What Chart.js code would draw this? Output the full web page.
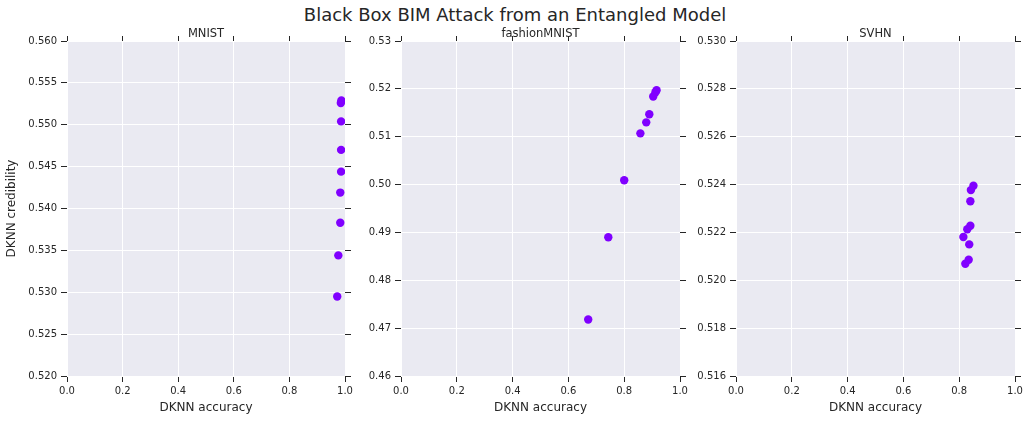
<!DOCTYPE html>
<html>
<head>
<meta charset="utf-8">
<script src="https://cdn.jsdelivr.net/npm/chart.js@4.4.1/dist/chart.umd.min.js"></script>
<style>
  html, body { margin: 0; padding: 0; background: #fff; }
  #fig { position: relative; width: 1030px; height: 421px; overflow: hidden; font-family: "DejaVu Sans", sans-serif; }
  #suptitle { position: absolute; left: 0; top: 4px; width: 1030px; text-align: center; font-size: 18px; line-height: 22px; color: #262626; }
  .panel { position: absolute; top: 0; height: 421px; }
</style>
</head>
<body>
<div id="fig"><div id="suptitle">Black Box BIM Attack from an Entangled Model</div></div>
<script>
// ---- Daten ----------------------------------------------------------------
const panelTitles = ['MNIST', 'fashionMNIST', 'SVHN'];

const mnistAcc  = [0.987, 0.985, 0.986, 0.986, 0.986, 0.983, 0.983, 0.976, 0.972];
const mnistCred = [0.5529, 0.5526, 0.5504, 0.5470, 0.5444, 0.5419, 0.5383, 0.5344, 0.5295];

const fashionAcc  = [0.916, 0.912, 0.904, 0.890, 0.879, 0.858, 0.800, 0.743, 0.671];
const fashionCred = [0.5197, 0.5193, 0.5184, 0.5147, 0.5130, 0.5107, 0.5009, 0.4890, 0.4718];

const svhnAcc  = [0.851, 0.842, 0.840, 0.840, 0.829, 0.815, 0.836, 0.834, 0.822];
const svhnCred = [0.52395, 0.52377, 0.5233, 0.52228, 0.52213, 0.52181, 0.5215, 0.52086, 0.52069];

// y-Achsen: [min, max, Schritt, Nachkommastellen]
const yRanges = [
  [0.520, 0.560, 0.005, 3],
  [0.46, 0.53, 0.01, 2],
  [0.516, 0.530, 0.002, 3],
];
const xTicks = [0, 1, 0.2];

const accs  = [mnistAcc, fashionAcc, svhnAcc];
const creds = [mnistCred, fashionCred, svhnCred];

// ---- Layout ----------------------------------------------------------------
const TXT = '#262626';
const BG = '#EAEAF2';
const DOT = '#8000ff';
const plotX = [[67, 345], [401, 680], [736, 1015]];

// Hintergrund der Plotfläche (seaborn darkgrid).
const areaBg = {
  id: 'areaBg',
  beforeDraw(chart) {
    const a = chart.chartArea, c = chart.ctx;
    c.save();
    c.fillStyle = BG;
    c.fillRect(a.left, a.top, a.right - a.left, a.bottom - a.top);
    c.restore();
  },
};

const fig = document.getElementById('fig');

function makePanel(i) {
  const [L, R] = plotX[i];
  const left = L - 67;
  const width = R - left + 15;
  const div = document.createElement('div');
  div.className = 'panel';
  div.style.left = left + 'px';
  div.style.width = width + 'px';
  const cv = document.createElement('canvas');
  cv.width = width;
  cv.height = 421;
  div.appendChild(cv);
  fig.appendChild(div);

  const [yMin, yMax, yStep, yDec] = yRanges[i];
  const pts = accs[i].map((x, k) => ({ x, y: creds[i][k] }));

  const hidden = { display: false };
  new Chart(cv, {
    type: 'scatter',
    data: {
      datasets: [{
        data: pts,
        backgroundColor: DOT,
        borderColor: DOT,
        borderWidth: 0,
        pointRadius: 4.2,
      }],
    },
    plugins: [areaBg],
    options: {
      responsive: false,
      animation: false,
      layout: { padding: { left: 5, top: 21, right: 9, bottom: 3 } },
      plugins: { legend: hidden, tooltip: { enabled: false } },
      scales: {
        x: {
          type: 'linear', position: 'bottom', min: xTicks[0], max: xTicks[1],
          ticks: { stepSize: xTicks[2], autoSkip: false, maxRotation: 0, padding: 3, color: TXT,
            font: { family: 'DejaVu Sans', size: 10 }, callback: (v) => v.toFixed(1) },
          grid: { color: '#ffffff', lineWidth: 1, tickColor: TXT, tickLength: 6 },
          border: hidden,
          title: { display: true, text: 'DKNN accuracy', color: TXT,
            font: { family: 'DejaVu Sans', size: 12 }, padding: { top: 0, bottom: 3 } },
          afterFit: (s) => { s.height = 42; },
        },
        x2: {
          type: 'linear', position: 'top', min: xTicks[0], max: xTicks[1],
          ticks: { display: false, stepSize: xTicks[2] },
          grid: { drawOnChartArea: false, tickColor: TXT, tickLength: 5 },
          border: hidden,
          title: { display: true, text: panelTitles[i], color: TXT,
            font: { family: 'DejaVu Sans', size: 11.5 }, padding: { top: 6.5, bottom: 0 } },
          afterFit: (s) => { s.height = 20; },
        },
        y: {
          type: 'linear', position: 'left', min: yMin, max: yMax,
          ticks: { stepSize: yStep, autoSkip: false, padding: 4, color: TXT,
            font: { family: 'DejaVu Sans', size: 10 }, callback: (v) => v.toFixed(yDec) },
          grid: { color: '#ffffff', lineWidth: 1, tickColor: TXT, tickLength: 6 },
          border: hidden,
          title: { display: i === 0, text: 'DKNN credibility', color: TXT,
            font: { family: 'DejaVu Sans', size: 12 }, padding: { top: 0, bottom: 0 } },
          afterFit: (s) => { s.width = 62; },
        },
        y2: {
          type: 'linear', position: 'right', min: yMin, max: yMax,
          ticks: { display: false, stepSize: yStep },
          grid: { drawOnChartArea: false, tickColor: TXT, tickLength: 6 },
          border: hidden,
          afterFit: (s) => { s.width = 6; },
        },
      },
    },
  });
}

[0, 1, 2].forEach(makePanel);
</script>
</body>
</html>
